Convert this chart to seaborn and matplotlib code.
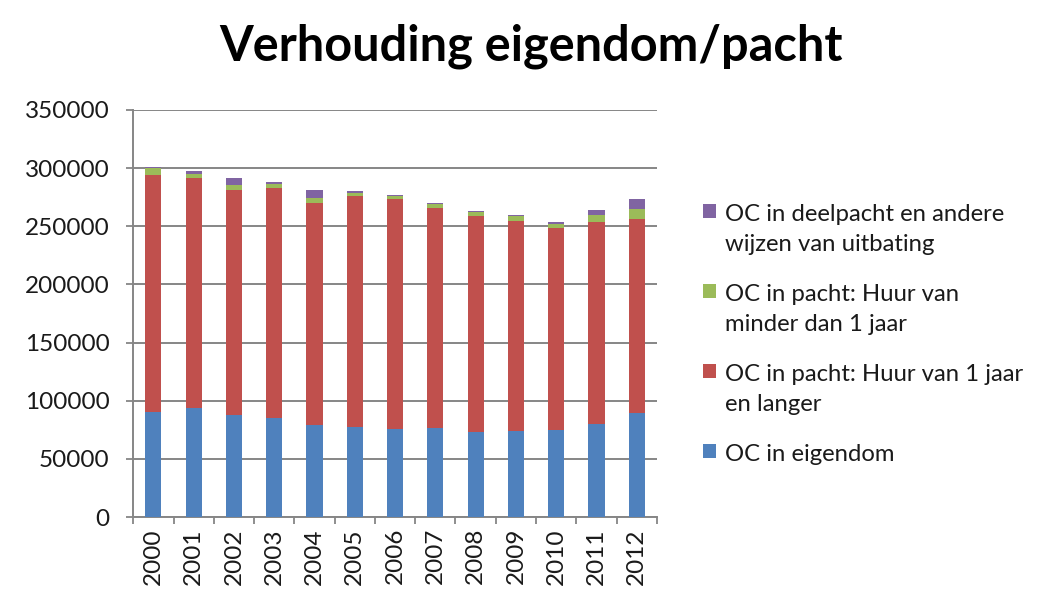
import matplotlib
matplotlib.use("Agg")
import matplotlib.pyplot as plt
import seaborn as sns
import pandas as pd
import numpy as np
from matplotlib.patches import Patch

years = ["2000", "2001", "2002", "2003", "2004", "2005", "2006",
         "2007", "2008", "2009", "2010", "2011", "2012"]
eigendom = [90300, 93500, 87500, 84900, 78900, 77700, 76000,
            76300, 73100, 74300, 74800, 79700, 89200]
pacht_lang = [204100, 198300, 193300, 198000, 191300, 198300, 197700,
              189400, 185700, 180400, 173900, 173900, 167200]
pacht_kort = [5800, 3400, 4900, 3700, 4000, 2300, 2300,
              3400, 3400, 4000, 3200, 5700, 8600]
deelpacht = [500, 2000, 6000, 1400, 7200, 2000, 1100,
             1100, 800, 800, 1700, 4300, 8000]

labels = ["OC in eigendom",
          "OC in pacht: Huur van 1 jaar\nen langer",
          "OC in pacht: Huur van\nminder dan 1 jaar",
          "OC in deelpacht en andere\nwijzen van uitbating"]
colors = ["#4F81BD", "#C0504D", "#9BBB59", "#8064A2"]

sns.set_theme(style="white")
plt.rcParams['font.family'] = ['Lato', 'DejaVu Sans']

df = pd.DataFrame({"year": years, "s0": eigendom, "s1": pacht_lang,
                   "s2": pacht_kort, "s3": deelpacht})
cum = df[["s0", "s1", "s2", "s3"]].cumsum(axis=1)

fig = plt.figure(figsize=(10.41, 5.97), dpi=100)
ax = fig.add_axes([0.128, 0.134, 0.503, 0.682])

for i in [3, 2, 1, 0]:
    sns.barplot(x=df["year"], y=cum.iloc[:, i], color=colors[i],
                width=0.4, ax=ax, saturation=1, edgecolor="none", zorder=3)

ax.set_ylim(0, 350000)
ax.set_xlim(-0.5, 12.5)
ax.set_yticks(np.arange(0, 350001, 50000))
ax.set_yticklabels([str(v) for v in range(0, 350001, 50000)], fontsize=17.5, color="#1a1a1a")
ax.set_xticks(range(len(years)))
ax.set_xticklabels(years, rotation=90, fontsize=17.5, color="#1a1a1a")
ax.set_xticks(np.arange(-0.5, 12.6, 1), minor=True)
ax.tick_params(axis="x", which="major", length=0, pad=8)
ax.tick_params(axis="x", which="minor", length=5, width=1.3, color="#868686", direction="out", bottom=True)
ax.tick_params(axis="y", which="major", length=5, width=1.3, color="#868686", direction="out", left=True, pad=12)
ax.set_xlabel("")
ax.set_ylabel("")
ax.yaxis.grid(True, color="#868686", linewidth=1.4, zorder=0)
ax.set_axisbelow(True)
for s in ["top", "right"]:
    ax.spines[s].set_visible(False)
for s in ["left", "bottom"]:
    ax.spines[s].set_color("#868686")
    ax.spines[s].set_linewidth(1.4)

fig.text(0.51, 0.922, "Verhouding eigendom/pacht", ha="center", va="center",
         fontsize=35, fontweight="bold", color="black")

handles = [Patch(facecolor=colors[i], edgecolor="none", label=labels[i]) for i in [3, 2, 1, 0]]
leg = fig.legend(handles=handles, loc="center left", bbox_to_anchor=(0.655, 0.44),
                 frameon=False, fontsize=17.2, handlelength=0.55, handleheight=0.55,
                 handletextpad=0.35, labelspacing=1.2)
for t in leg.get_texts():
    t.set_color("#1a1a1a")
    t.set_linespacing(1.55)
for col in leg._legend_handle_box.get_children():
    for hp in col.get_children():
        hp.align = "top"

fig.savefig("out.png", dpi=100)
